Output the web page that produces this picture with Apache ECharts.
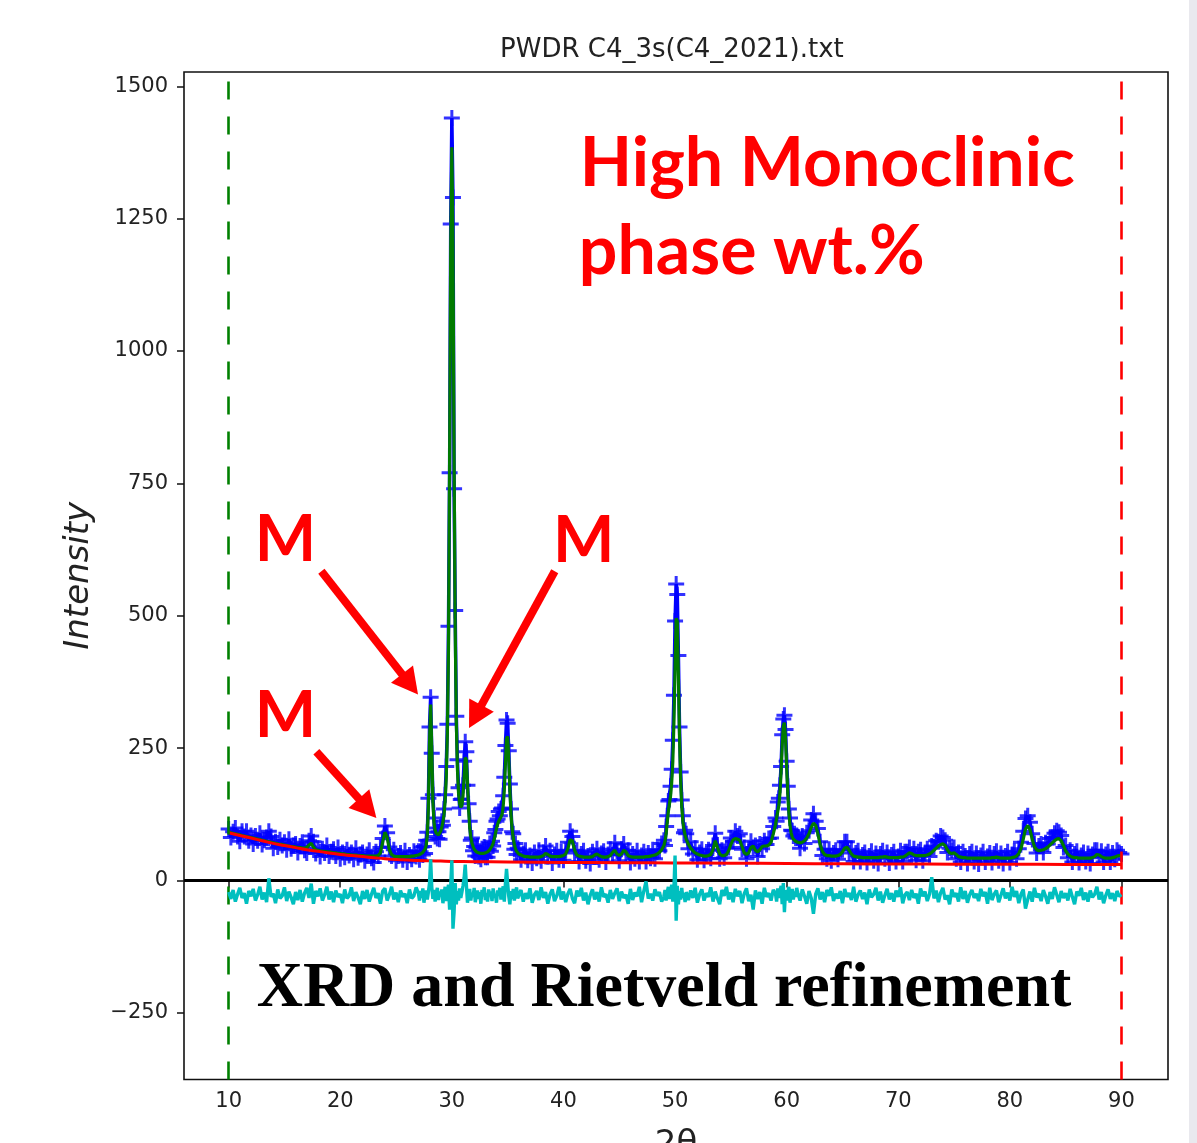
<!DOCTYPE html>
<html>
<head>
<meta charset="utf-8">
<script src="https://cdn.jsdelivr.net/npm/echarts@6/dist/echarts.min.js"></script>
<style>
html,body{margin:0;padding:0;background:#fff;}
#chart{width:1197px;height:1143px;}
</style>
</head>
<body>
<div id="chart"></div>
<script>
// ---- grid of 2-theta values: segment starts and steps ----
const segStart = [10, 27, 36, 49, 51, 59, 61];
const segStep  = [0.2, 0.1, 0.2, 0.1, 0.2, 0.1, 0.2];

// ---- observed intensities (blue +) ----
const obsA = [97,81,92,99,83,74,93,83,93,75,85,69,84,75,89,68,76,81,93,83,61,73,63,77,66,72,58,78,60,66,69,53,65,72,57,52,75,84,73,51,61,45,60,52,66,46,54,59,46,62,41,53,44,58,47,53,40,61,43,49,53,37,49,57,42,34,54,46,62,79,103,90,63,46,58,37,46,52,39,56,35,48,40,55,45];
const obsB = [55,39,54,63,48,64,51,76,91,155,290,346,240,162,118,83,99,79,92,78,101,112,104,135,162,215,295,480,770,1240,1440,1290,740,510,310,228,175,137,153,154,180,225,262,243,180,145,112,76,80,56,64,46,62,65,45,55,40,60,48,63,44,59,44,59,70,55,74,65,90,96,112,116,130,122,135,137,160,195,255,303,297,245,182,135,92,88,59,70,49,61];
const obsC = [58,39,51,57,38,47,33,53,42,57,37,53,65,45,56,33,49,56,39,54,38,57,72,93,83,52,57,36,50,56,37,46,32,54,45,60,39,51,55,35,49,59,48,71,55,37,59,69,50,57,34,50,41,56,36,47,54,36,52,42,58,41,58,56,70];
const obsD = [76,66,102,122,150,153,178,210,265,350,490,560,540,425,290,205,152,122,90,95];
const obsE = [88,60,73,50,61,39,53,59,38,49,58,42,66,89,67,41,57,43,61,62,80,74,93,84,88,59,62,41,59,74,62,66,45,69,60,75,68,79,80,102];
const obsF = [118,112,148,155,180,215,275,305,312,285,225,178,135,118,95,94,84,88,80,85];
const obsG = [80,61,84,70,90,94,114,126,112,98, 73,47,59,41,59,37,52,57,40,58, 58,73,73,52,59,36,52,56,36,48,
              53,34,46,55,37,51,32,50,56,41, 53,33,48,54,36,45,56,36,54,54, 62,45,60,38,54,58,37,51,60,45,
              65,63,75,73,84,81,76,53,61,57, 62,41,53,35,54,46,32,50,54,36, 51,31,47,54,35,45,52,34,50,55,
              37,51,32,46,54,34,49,55,41,60, 72,93,117,122,110,88,70,52,65,69, 53,71,69,79,81,89,94,91,85,62,
              66,43,57,35,50,55,34,47,53,36, 51,32,49,57,57,43,55,35,49,54, 35,52,40,57,53,50];

// ---- calculated profile (green) ----
const calcA = [91,90,89,88,87,86,85,84,83,82,81,80,79,78,77,76,75,74,73,72,71,70,69,68,68,67,66,65,64,64,63,62,62,61,61,62,67,70,63,58,57,56,55,55,54,54,53,52,52,51,51,50,50,49,49,48,48,48,47,47,47,46,46,46,46,46,46,47,52,72,91,82,58,49,46,45,45,45,45,45,45,45,46,46,47];
const calcB = [48,49,50,51,53,55,59,66,85,140,260,332,250,150,110,95,89,87,86,88,93,100,110,125,150,195,280,440,800,1200,1385,1200,800,480,300,210,165,145,138,142,160,195,232,228,185,135,100,82,71,64,59,56,54,53,52,51,51,51,51,52,52,53,54,56,58,61,65,70,78,88,98,106,112,116,120,125,140,170,220,268,272,230,170,125,98,80,68,60,55,52];
const calcC = [50,48,46,45,45,44,44,44,44,44,45,47,51,49,46,45,45,45,45,46,47,50,60,77,75,57,48,46,45,44,44,44,44,45,48,50,47,45,44,44,45,47,53,57,50,47,50,57,54,47,45,44,44,44,44,44,44,45,45,46,47,48,50,53,58];
const calcD = [66,74,88,110,130,145,160,185,225,300,400,495,490,385,270,190,140,112,96,86];
const calcE = [78,68,61,56,52,50,48,47,46,46,47,49,58,75,62,50,47,47,49,56,68,77,79,78,76,64,52,49,52,62,65,57,54,58,64,65,65,67,72,88];
const calcF = [105,118,130,142,165,205,255,292,298,268,215,165,128,104,90,82,78,76,74,73];
const calcG = [72,71,72,75,80,88,100,108,104,88, 68,55,49,47,47,46,46,46,47,49, 54,61,63,57,50,46,45,44,44,43,
               43,43,43,43,43,43,43,44,44,45, 44,43,43,43,43,43,44,44,46,49, 52,51,48,47,47,47,47,47,48,50,
               53,57,61,65,68,69,66,58,52,51, 52,49,45,44,43,43,42,42,42,42, 42,42,42,42,42,42,42,43,43,44,
               43,42,42,42,42,42,43,44,46,51, 60,78,97,104,96,78,64,58,56,57, 58,60,63,67,71,75,78,79,75,66,
               56,50,46,44,43,43,42,42,42,42, 42,42,43,45,49,48,45,43,42,42, 42,43,44,46,47,46];

// ---- difference curve (cyan, offset) ----
const diffA = [-22,-35,-18,-40,-26,-14,-33,-24,-44,-20,-30,-16,-38,-27,-12,-36,-23,-41,4,-31,-25,-43,-17,-34,-29,-13,-39,-21,-32,-45,-22,-37,-18,-40,-24,-14,-33,-6,-44,-20,-30,-15,-38,-27,-12,-36,-21,-41,-19,-31,-26,-43,-17,-34,-29,-13,-39,-22,-32,-45,-20,-35,-18,-40,-26,-14,-33,-24,-44,-20,-15,-38,-27,-12,-36,-23,-41,-19,-31,-25,-43,-17,-34,-29,-13];
const diffB = [-24,-38,-20,-33,-15,-42,-27,-19,-36,-22,-5,40,-12,-35,-18,-40,-25,-14,-37,-21,-30,-17,-43,-26,-12,-39,-20,-8,-55,-10,38,-91,-60,-5,-45,-20,-38,-15,-33,-22,-10,5,30,-8,-42,-25,-16,-38,-23,-31,-14,-41,-27,-19,-35,-22,-44,-18,-30,-13,-37,-24,-40,-17,-29,-21,-39,-15,-32,-26,-42,-19,-28,-14,-36,-23,-11,-40,-6,22,-5,-30,-45,-20,-35,-16,-38,-25,-13,-34];
const diffC = [-31,-18,-40,-24,-35,-15,-42,-27,-20,-37,-13,-33,-22,-44,-26,-17,-39,-29,-12,-36,-21,-41,-25,-16,-34,-43,-19,-30,-14,-38,-23,-45,-28,-17,-36,-22,-40,-13,-31,-26,-42,-18,-35,-24,-15,-39,-21,-33,-27,-44,-16,-37,-23,-30,-12,-41,-20,-2,-34,-25,-38,-17,-29,-22,-40];
const diffD = [-30,-18,-38,-22,-12,-35,-20,-8,-40,-15,47,-76,-10,-45,-20,-36,-14,-33,-24,-41];
const diffE = [-22,-37,-19,-33,-14,-42,-26,-17,-38,-24,-31,-13,-40,-21,-34,-45,-18,-29,-12,-36,-23,-41,-16,-30,-20,-43,-25,-15,-39,-27,-55,-19,-35,-22,-44,-14,-31,-24,-38,-18];
const diffF = [-25,-40,-15,-33,-20,-10,-45,-5,-60,-18,-38,-22,-12,-42,-27,-16,-36,-21,-31,-14];
const diffG = [-24,-38,-17,-30,-44,-20,-33,-63,-26,-15, -36,-22,-41,-18,-29,-13,-39,-25,-34,-20, -43,-16,-31,-24,-37,-12,-40,-27,-19,-35,
               -23,-45,-17,-32,-26,-14,-38,-21,-42,-28, -16,-36,-24,-40,-19,-31,-13,-43,-27,-22, -37,-18,-33,-25,-44,-15,-30,-21,-39,-26,
               6,-34,-19,-41,-23,-14,-36,-28,-45,-17, -31,-24,-40,-13,-35,-20,-42,-27,-18,-33, -25,-39,-16,-30,-22,-44,-14,-37,-26,-19,
               -41,-28,-15,-34,-23,-38,-12,-31,-20,-43, -26,-17,-53,-36,-21,-40,-14,-32,-25,-39, -18,-30,-44,-22,-35,-13,-27,-41,-20,-33,
               -24,-38,-16,-31,-45,-21,-29,-14,-37,-23, -40,-19,-32,-26,-12,-36,-22,-43,-28,-17, -35,-24,-39,-20,-30,-27];

// ---- refined background (red) ----
const bgX = [10,11,12,13,14,15,16,17,18,19,20,21,22,23,24,25,26,27,28,29,30,32,35,40,45,50,55,60,65,70,75,80,85,90];
const bgY = [90,85,80,75,70,66,62,58,55,52,49,47,45,43,41,39.5,38.5,37.5,37,36.5,36,35.5,35,34,33.5,33,32.5,32,31.5,31,30.8,30.5,30.2,30];

// ---- axes ----
const xTicks = [10,20,30,40,50,60,70,80,90];
const yTicks = [-250,0,250,500,750,1000,1250,1500];
const limitLines = [10, 90];

// ---- annotations (data coordinates) ----
const mTexts = ['M','M','M'];
const mAnchors = [[12.78,604],[39.52,602],[12.78,272]];
const arrowTails = [[18.31,584],[39.22,584],[17.86,243]];
const arrowTips = [[26.97,351],[31.54,288],[23.24,118]];
const noteLines = ['High Monoclinic','phase wt.%'];
const noteAnchors = [[41.91,1312],[41.82,1145]];
const footText = 'XRD and Rietveld refinement';
const footAnchor = [12.6,-244];

function toPairs(segs){
  const out=[];
  segs.forEach((arr,s)=>arr.forEach((v,i)=>out.push([+(segStart[s]+i*segStep[s]).toFixed(2), v])));
  return out;
}
const obsData = toPairs([obsA,obsB,obsC,obsD,obsE,obsF,obsG]);
const calcData = toPairs([calcA,calcB,calcC,calcD,calcE,calcF,calcG]);
const diffData = toPairs([diffA,diffB,diffC,diffD,diffE,diffF,diffG]);
const bgData = bgX.map((x,i)=>[x,bgY[i]]);

const plusPath = 'path://M6.5,0h3v6.5h6.5v3h-6.5v6.5h-3v-6.5h-6.5v-3h6.5z';
const axisFont = 'DejaVu Sans';

const chart = echarts.init(document.getElementById('chart'), null, {renderer:'canvas'});
chart.setOption({
  animation:false,
  backgroundColor:'#fff',
  title:{text:'PWDR C4_3s(C4_2021).txt', left:500, top:37, padding:0,
    textStyle:{fontFamily:axisFont, fontSize:26, fontWeight:'normal', color:'#222'}},
  grid:{left:184, top:72, right:29, bottom:63.5, show:true, borderColor:'#111', borderWidth:1.6,
    backgroundColor:'transparent', containLabel:false, outerBoundsMode:'none'},
  xAxis:{type:'value', min:6, max:94.17,
    name:'2θ', nameLocation:'middle', nameGap:49,
    nameTextStyle:{fontFamily:axisFont, fontSize:34, color:'#222'},
    axisLine:{show:false}, splitLine:{show:false},
    axisTick:{show:true, inside:false, length:7, lineStyle:{color:'#111', width:1.5}, customValues:xTicks},
    axisLabel:{customValues:xTicks, fontFamily:axisFont, fontSize:21, color:'#222', margin:12}},
  yAxis:{type:'value', min:-376, max:1527,
    name:'Intensity', nameLocation:'middle', nameGap:88, nameRotate:90,
    nameTextStyle:{fontFamily:axisFont, fontSize:34, fontStyle:'italic', color:'#222'},
    axisLine:{show:false}, splitLine:{show:false},
    axisTick:{show:true, inside:false, length:7, lineStyle:{color:'#111', width:1.5}, customValues:yTicks},
    axisLabel:{customValues:yTicks, fontFamily:axisFont, fontSize:21, color:'#222', margin:16,
      formatter:v=> v<0 ? '\u2212'+(-v) : String(v)}},
  series:[
    {name:'Observed trace', type:'line', data:obsData, showSymbol:false,
      lineStyle:{color:'#0000ff', width:3.5}, silent:true, z:1},
    {name:'Observed', type:'scatter', data:obsData, symbol:plusPath, symbolSize:16,
      itemStyle:{color:'#0000ff'}, silent:true, z:2},
    {name:'Calculated', type:'line', data:calcData, showSymbol:false,
      lineStyle:{color:'#007a00', width:3.2}, silent:true, z:3},
    {name:'Background', type:'line', data:bgData, smooth:true, showSymbol:false,
      lineStyle:{color:'#ff0000', width:3}, silent:true, z:4},
    {name:'Difference', type:'line', data:diffData, showSymbol:false,
      lineStyle:{color:'#00bfbf', width:3.4}, silent:true, z:5,
      markLine:{silent:true, symbol:['none','none'], label:{show:false}, animation:false,
        data:[
          {xAxis:limitLines[0], lineStyle:{color:'#008000', type:[18,17], width:2.6}},
          {xAxis:limitLines[1], lineStyle:{color:'#ff0000', type:[18,17], width:2.6}},
          {yAxis:0, lineStyle:{color:'#000', type:'solid', width:2.8}}
        ]}}
  ]
});

function px(p){ return chart.convertToPixel({gridIndex:0}, p); }
const graphics = [];
graphics.push({type:'rect', shape:{x:1189, y:0, width:8, height:1143}, style:{fill:'#e9e9ee'}, silent:true});
function addArrow(t, h){
  const a = px(t), b = px(h);
  const dx=b[0]-a[0], dy=b[1]-a[1], L=Math.hypot(dx,dy), ux=dx/L, uy=dy/L;
  const hl=26, hw=14;
  const bx=b[0]-ux*hl, by=b[1]-uy*hl;
  graphics.push({type:'line', shape:{x1:a[0], y1:a[1], x2:bx+ux*2, y2:by+uy*2}, style:{stroke:'#ff0000', lineWidth:8}, silent:true, z:100});
  graphics.push({type:'polygon', shape:{points:[[b[0],b[1]],[bx-uy*hw,by+ux*hw],[bx+uy*hw,by-ux*hw]]}, style:{fill:'#ff0000'}, silent:true, z:100});
}
arrowTails.forEach((t,i)=>addArrow(t, arrowTips[i]));
function addText(str, anchor, font, size, color, dx){
  const p = px(anchor);
  graphics.push({type:'text', x:p[0]+dx, y:p[1]-size*0.32, silent:true, z:100,
    style:{text:str, fill:color, font:font, align:'left', verticalAlign:'middle'}});
}
mTexts.forEach((s,i)=>addText(s, mAnchors[i], 'bold 65px Lato', 65, '#ff0000', -5));
noteLines.forEach((s,i)=>addText(s, noteAnchors[i], 'bold 68px Lato', 68, '#ff0000', -5));
addText(footText, footAnchor, 'bold 64px "Liberation Serif"', 64, '#000', -1);
chart.setOption({graphic:graphics});
</script>
</body>
</html>
